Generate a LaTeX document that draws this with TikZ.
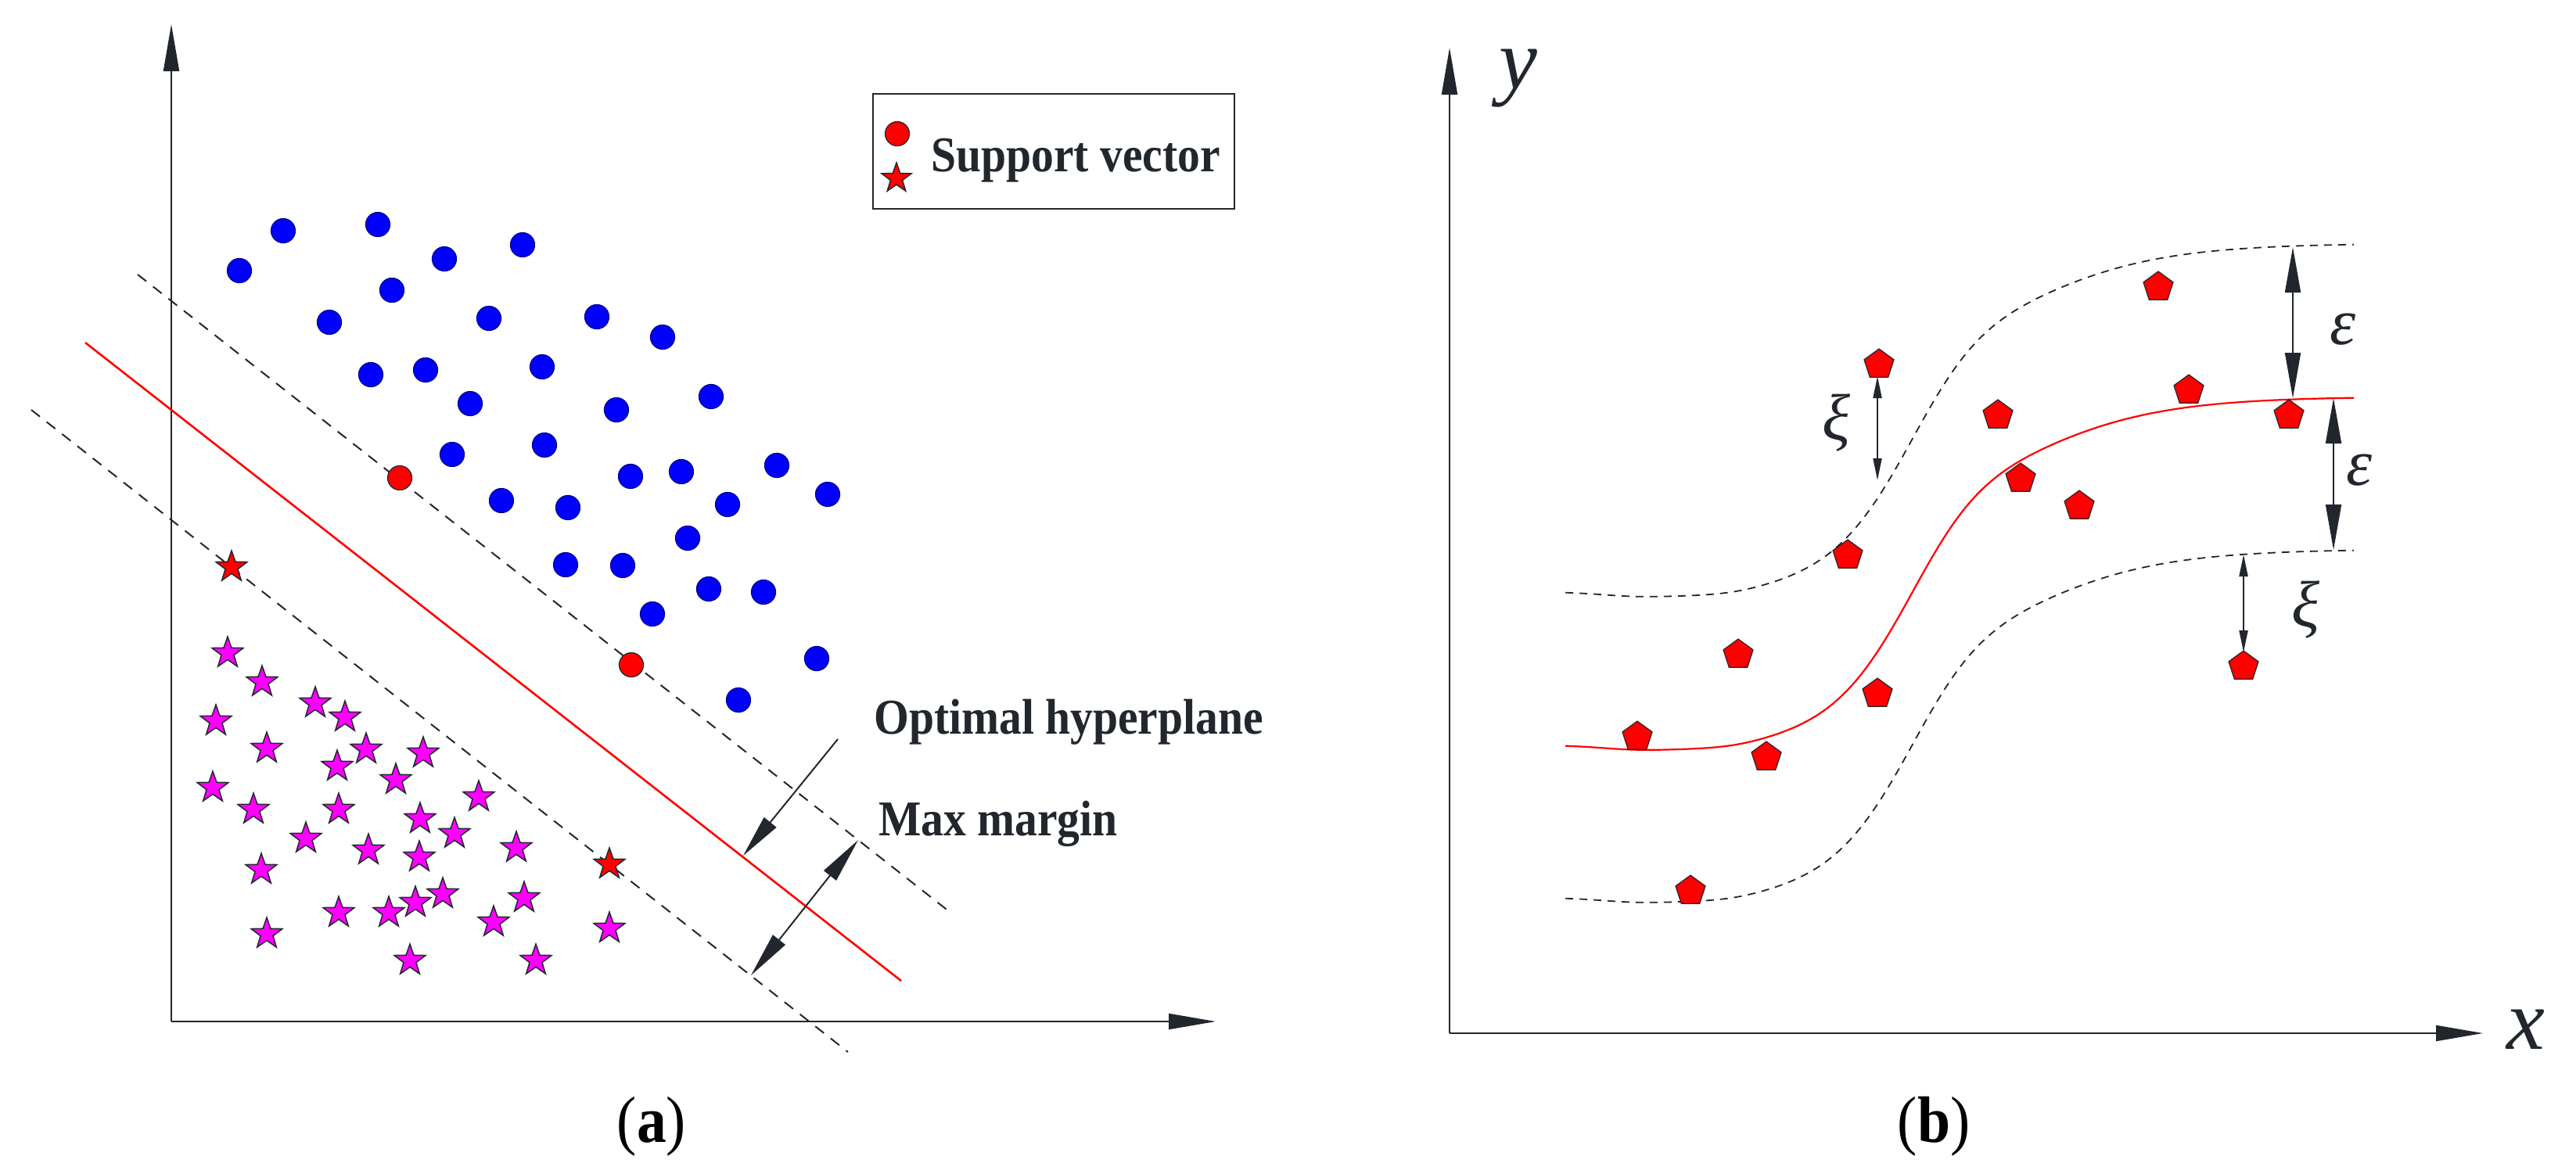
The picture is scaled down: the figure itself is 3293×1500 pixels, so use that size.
\documentclass[tikz,border=0pt]{standalone}
\usepackage{fontspec}
\setmainfont{Liberation Serif}
\newfontfamily\lblfont[FakeStretch=0.9]{Liberation Serif}
\usetikzlibrary{shapes.geometric,arrows.meta}
\definecolor{ink}{RGB}{34,39,46}
\definecolor{magpt}{RGB}{255,0,255}
\definecolor{redpt}{RGB}{255,0,0}
\definecolor{bluept}{RGB}{0,0,255}
\begin{document}
\begin{tikzpicture}[x=1pt,y=-1pt,
  declare function={sw(\x)=58+20*(1+tanh((\x-2560)/100));
                    sig(\x)=507+445/(1+exp((\x-2460)/sw(\x)))+8/(1+((\x-2150)/110)^4);},
  axisarrow/.style={draw=ink, line width=2.2pt, -{Triangle[length=60pt,width=20pt]}},
  dblarrow/.style={draw=ink, line width=2pt, {Triangle[length=58pt,width=20pt]}-{Triangle[length=58pt,width=20pt]}},
  onearrow/.style={draw=ink, line width=2pt, -{Triangle[length=55pt,width=20pt]}},
  smlarrow/.style={draw=ink, line width=2pt, {Triangle[length=28pt,width=11pt]}-{Triangle[length=28pt,width=11pt]}},
  dotpt/.style={circle, minimum size=31pt, inner sep=0pt, fill=bluept, draw=bluept!55!black, line width=1.2pt},
  svdot/.style={dotpt, fill=redpt, draw=ink},
  starpt/.style={star, star points=5, star point ratio=2.5, minimum size=42pt, inner sep=0pt, fill=magpt, draw=ink, line width=1.5pt},
  svstar/.style={starpt, fill=redpt},
  pentpt/.style={regular polygon, regular polygon sides=5, minimum size=40pt, inner sep=0pt, fill=redpt, draw=ink, line width=1.2pt},
  lbl/.style={font=\fontsize{64}{70}\selectfont\lblfont\bfseries, text=ink, inner sep=0pt},
  captext/.style={font=\fontsize{84}{90}\selectfont\lblfont, text=black, inner sep=0pt},
  greek/.style={font=\fontsize{84}{90}\selectfont\itshape, text=ink, inner sep=0pt},
  axlbl/.style={font=\fontsize{110}{120}\selectfont\itshape, text=ink, inner sep=0pt},
  redline/.style={draw=redpt, line width=2.6pt},
  dashline/.style={draw=ink, line width=2pt, dash pattern=on 14pt off 11pt},
  redcurve/.style={draw=redpt, line width=2.2pt},
  dashcurve/.style={draw=ink, line width=1.8pt, dash pattern=on 10pt off 8pt}
]
\useasboundingbox (0,0) rectangle (3293,1500);
\fill[white] (0,0) rectangle (3293,1500);

%% ---------------- panel (a) ----------------
\coordinate (aO) at (219,1306);
\coordinate (aY) at (219,31);
\coordinate (aX) at (1554,1306);
\draw[axisarrow] (aO) -- (aY);
\draw[axisarrow] (aO) -- (aX);

% hyperplane and margins
\coordinate (u1) at (176,351);  \coordinate (u2) at (1218,1169);
\coordinate (h1) at (109,438);  \coordinate (h2) at (1152,1254);
\coordinate (l1) at (40,524);   \coordinate (l2) at (1084,1345);
\draw[dashline] (u1) -- (u2);
\draw[redline] (h1) -- (h2);
\draw[dashline] (l1) -- (l2);

% blue class
\foreach \p [count=\i] in {(306,346),(362,295),(483,287),(568,331),(668,313),(501,371),(421,412),(625,407),(763,405),(847,431),(474,479),(544,473),(693,469),(601,516),(788,524),(909,507),(578,581),(696,569),(806,609),(871,603),(993,595),(1058,632),(641,640),(726,649),(930,645),(879,688),(723,722),(796,723),(906,753),(976,757),(834,785),(1044,842),(944,895)}
  \node[dotpt] (b\i) at \p {};
\node[svdot] (sv1) at (511,611) {};
\node[svdot] (sv2) at (807,850) {};

% star class
\foreach \p [count=\i] in {(291,835),(335,872),(276,922),(403,899),(441,917),(341,957),(468,958),(541,963),(431,980),(272,1007),(506,997),(612,1019),(324,1035),(433,1035),(537,1047),(581,1066),(391,1072),(471,1087),(536,1096),(660,1084),(334,1112),(566,1143),(670,1148),(531,1154),(497,1167),(433,1167),(631,1179),(779,1187),(341,1194),(524,1228),(685,1228)}
  \node[starpt] (s\i) at \p {};
\node[svstar] (sv3) at (296,725) {};
\node[svstar] (sv4) at (779,1105) {};

% legend
\node[draw=ink, line width=2pt, minimum width=462pt, minimum height=147pt, inner sep=0pt, anchor=north west] (legend) at (1115,119) {};
\node[svdot] (legdot) at (1147,171) {};
\node[svstar, minimum size=40pt] (legstar) at (1146,228) {};
\node[lbl, anchor=base west] (legtext) at (1190,219) {Support vector};

% labels and pointers
\node[lbl, anchor=base west] (opt) at (1117,938) {Optimal hyperplane};
\node[lbl, anchor=base west] (mm) at (1123,1068) {Max margin};
\coordinate (p1) at (1071,945);
\coordinate (p2) at (950,1094);
\draw[onearrow] (p1) -- (p2);
\coordinate (m1) at (1097,1074);
\coordinate (m2) at (960,1247);
\draw[dblarrow] (m1) -- (m2);

\node[captext] (capa) at (833,1440) {(\textbf{a})};

%% ---------------- panel (b) ----------------
\coordinate (bO) at (1853,1321);
\coordinate (bY) at (1853,61);
\coordinate (bX) at (3174,1321);
\draw[axisarrow] (bO) -- (bY);
\draw[axisarrow] (bO) -- (bX);
\node[axlbl] (ylab) at (1941,100) {y};
\node[axlbl] (xlab) at (3229,1316) {x};

\draw[redcurve] plot[domain=2001:3009, samples=160, smooth] (\x, {sig(\x)});
\draw[dashcurve] plot[domain=2001:3009, samples=160, smooth] (\x, {sig(\x)-196});
\draw[dashcurve] plot[domain=2001:3009, samples=160, smooth] (\x, {sig(\x)+195});

\foreach \p [count=\i] in {(2402,466),(2759,367),(2554,531),(2798,499),(2926,531),(2583,612),(2658,647),(2362,710),(2222,837),(2400,887),(2093,942),(2258,968),(2161,1139),(2868,852)}
  \node[pentpt] (q\i) at \p {};

% epsilon tube arrows
\coordinate (e1) at (2931,316); \coordinate (e2) at (2931,509);
\draw[dblarrow] (e1) -- (e2);
\coordinate (e3) at (2983,509); \coordinate (e4) at (2983,703);
\draw[dblarrow] (e3) -- (e4);
\node[greek] (eps1) at (2995,421) {ε};
\node[greek] (eps2) at (3016,601) {ε};

% slack arrows
\coordinate (x1) at (2400,481); \coordinate (x2) at (2400,614);
\draw[smlarrow] (x1) -- (x2);
\coordinate (x3) at (2868,709); \coordinate (x4) at (2868,834);
\draw[smlarrow] (x3) -- (x4);
\node[greek] (xi1) at (2347,541) {ξ};
\node[greek] (xi2) at (2947,780) {ξ};

\node[captext] (capb) at (2472,1440) {(\textbf{b})};
\end{tikzpicture}
\end{document}
